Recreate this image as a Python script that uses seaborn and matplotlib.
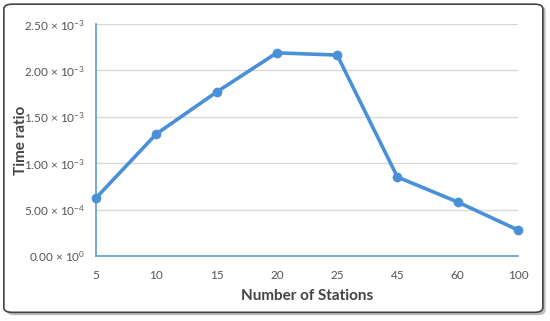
import matplotlib
matplotlib.use("Agg")
import matplotlib.pyplot as plt
import seaborn as sns
import pandas as pd
from matplotlib.patches import FancyBboxPatch
from matplotlib.ticker import FixedLocator

stations = ["5", "10", "15", "20", "25", "45", "60", "100"]
time_ratio = [0.625e-3, 1.315e-3, 1.767e-3, 2.19e-3, 2.166e-3, 0.851e-3, 0.582e-3, 0.28e-3]
y_ticks = [0.0, 0.5e-3, 1.0e-3, 1.5e-3, 2.0e-3, 2.5e-3]
y_tick_labels = [r"0.00 × 10$^{0}$", r"5.00 × 10$^{-4}$", r"1.00 × 10$^{-3}$",
                 r"1.50 × 10$^{-3}$", r"2.00 × 10$^{-3}$", r"2.50 × 10$^{-3}$"]

sns.set_style("white")
plt.rcParams["font.family"] = ["Lato", "DejaVu Sans"]
plt.rcParams["mathtext.fontset"] = "custom"
plt.rcParams["mathtext.rm"] = "Lato"
plt.rcParams["mathtext.it"] = "Lato"

df = pd.DataFrame({"Stations": stations, "Ratio": time_ratio})

fig = plt.figure(figsize=(5.5, 3.21), dpi=100)
# frame with shadow
shadow = FancyBboxPatch((0.012, 0.018), 0.98, 0.965, boxstyle="round,pad=0,rounding_size=0.015",
                        transform=fig.transFigure, facecolor="#bdbdbd", edgecolor="none", zorder=-3)
frame = FancyBboxPatch((0.007, 0.027), 0.98, 0.96, boxstyle="round,pad=0,rounding_size=0.015",
                       transform=fig.transFigure, facecolor="white", edgecolor="#444444", linewidth=1.2, zorder=-2)
fig.patches.extend([shadow, frame])

ax = fig.add_axes([0.1745, 0.2025, 0.7673, 0.7225])
ax.set_facecolor("none")
blue = "#4a90d9"
sns.lineplot(data=df, x="Stations", y="Ratio", ax=ax, color=blue, linewidth=2.6,
             marker="o", markersize=7, markeredgewidth=0, sort=False, clip_on=False, zorder=5)
ax.set_xlim(0, len(stations) - 1)
ax.set_ylim(0, 2.5e-3)
ax.yaxis.set_major_locator(FixedLocator(y_ticks))
ax.set_yticklabels(y_tick_labels)
ax.grid(axis="y", color="#d9d9d9", linewidth=1)
for s in ["top", "right"]:
    ax.spines[s].set_visible(False)
for s in ["left", "bottom"]:
    ax.spines[s].set_color("#5b9bd5")
    ax.spines[s].set_linewidth(1.2)
ax.tick_params(axis="x", direction="out", length=4, color="#5b9bd5", width=1.2,
               labelsize=8.5, labelcolor="#555555", pad=6)
ax.tick_params(axis="y", direction="out", length=4, color="#5b9bd5", width=1.2,
               labelsize=8.5, labelcolor="#555555", pad=4)
ax.set_xlabel("Number of Stations", fontsize=11, fontweight="bold", color="#444444", labelpad=6)
ax.set_ylabel("Time ratio", fontsize=11, fontweight="bold", color="#444444", labelpad=8)
ax.yaxis.set_label_coords(-0.16, 0.5)
fig.savefig("out.png", dpi=100)
